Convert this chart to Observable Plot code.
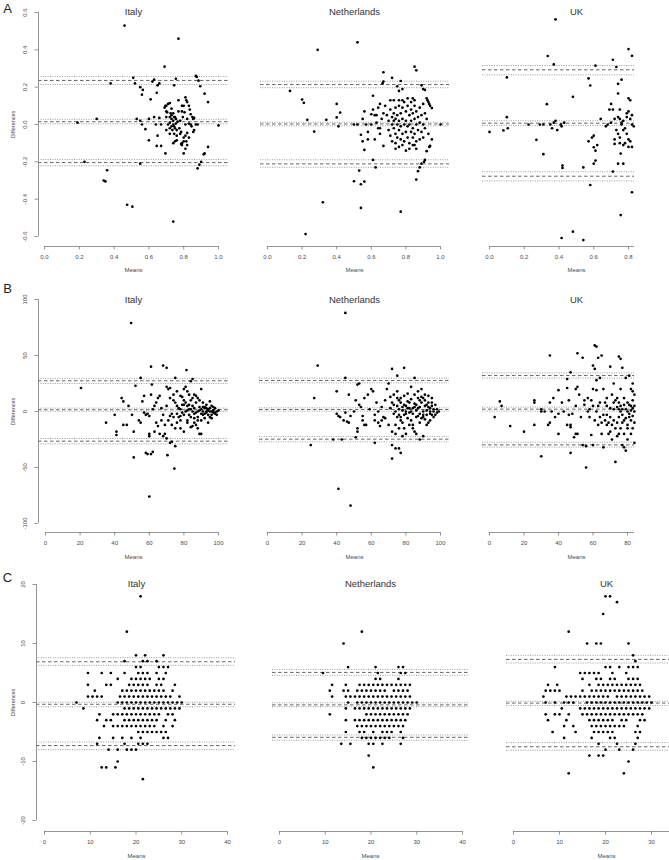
<!DOCTYPE html>
<html><head><meta charset="utf-8">
<script src="https://cdn.jsdelivr.net/npm/d3@7"></script>
<script src="https://cdn.jsdelivr.net/npm/@observablehq/plot@0.6"></script>
<style>
body{margin:0;background:#fff}
#fig{position:relative;width:669px;height:860px;overflow:hidden;background:#fff}
#fig svg{position:absolute;background:transparent}
</style></head><body><div id="fig"></div>
<script>
// ---------- tick labels ----------
const ticksDiffA = [-0.6,-0.4,-0.2,0,0.2,0.4,0.6];
const ticksDiffB = [-100,-50,0,50,100];
const ticksDiffC = [-20,-10,0,10,20];
const ticksMeanA = [0,0.2,0.4,0.6,0.8,1.0];
const ticksMeanAUK = [0,0.2,0.4,0.6,0.8];
const ticksMeanB = [0,20,40,60,80,100];
const ticksMeanBUK = [0,20,40,60,80];
const ticksMeanC = [0,10,20,30,40];
const ticksMeanCUK = [0,10,20,30];
const countries = ["Italy","Netherlands","UK"];
const panelLetters = ["A","B","C"];

// ---------- limits of agreement: [lower, bias, upper], each [ciLow, estimate, ciHigh] ----------
const loaItalyA = [[-0.221,-0.204,-0.187],[0.004,0.015,0.028],[0.214,0.236,0.257]];
const loaNetherlandsA = [[-0.229,-0.211,-0.189],[-0.007,0.003,0.012],[0.197,0.214,0.232]];
const loaUKA = [[-0.302,-0.277,-0.253],[-0.005,0.007,0.020],[0.266,0.293,0.316]];
const loaItalyB = [[-28.9,-26.5,-24.1],[0.2,1.6,3.0],[25.0,27.4,29.6]];
const loaNetherlandsB = [[-27.1,-24.7,-22.3],[0.3,1.8,3.3],[25.6,27.7,29.8]];
const loaUKB = [[-31.8,-29.8,-27.4],[0.3,2.1,3.9],[29.8,32.1,34.5]];
const loaItalyC = [[-8.0,-7.3,-6.7],[-0.7,-0.3,0.05],[6.3,6.9,7.6]];
const loaNetherlandsC = [[-6.4,-5.9,-5.5],[-0.7,-0.4,-0.05],[4.6,5.1,5.6]];
const loaUKC = [[-8.1,-7.5,-6.8],[-0.5,-0.1,0.2],[6.7,7.3,8.0]];

// ---------- points [mean, difference] ----------
const ptsItalyA = [[0.46,0.53],[0.77,0.46],[0.69,0.31],
[0.51,0.25],[0.52,0.22],[0.38,0.22],[0.62,0.23],[0.63,0.24],[0.65,0.21],[0.66,0.22],[0.745,0.21],[0.755,0.245],[0.87,0.26],[0.875,0.255],[0.885,0.235],[0.895,0.205],
[0.55,0.2],[0.565,0.185],[0.56,0.16],[0.61,0.135],[0.645,0.17],[0.92,0.165],[0.94,0.12],[0.72,0.115],[0.695,0.1],[0.69,0.09],[0.71,0.11],
[0.19,0.01],[0.30,0.03],[0.53,0.03],[0.55,0.02],[0.56,0.0],[0.58,-0.025],[0.60,0.03],[0.60,-0.085],[0.63,0.04],[0.64,0.0],[0.65,-0.06],[0.645,-0.115],[0.67,-0.115],[0.66,0.035],[0.67,0.0],
[0.23,-0.2],[0.36,-0.245],[0.34,-0.3],[0.35,-0.305],[0.55,-0.21],[0.475,-0.43],[0.505,-0.44],[0.74,-0.52],[0.88,-0.235],[0.89,-0.215],[0.9,-0.2],[0.915,-0.16],[0.92,-0.155],[0.94,-0.12],[1.0,-0.005],[0.8,-0.155],[0.695,-0.155],[0.81,-0.13],[0.82,-0.11],[0.79,-0.1],[0.785,-0.105],
[0.70,0.07],[0.70,0.04],[0.70,-0.03],[0.71,0.0],[0.72,0.04],[0.72,0.01],[0.72,-0.02],[0.73,0.085],[0.73,0.05],[0.73,0.03],[0.73,-0.01],[0.735,-0.03],[0.74,0.06],[0.74,0.02],[0.74,0.0],[0.745,-0.01],[0.745,-0.05],[0.75,-0.09],[0.75,0.04],[0.75,-0.02],[0.755,0.03],[0.76,-0.03],[0.76,-0.06],[0.77,0.13],[0.77,0.07],[0.775,-0.02],[0.78,0.02],[0.785,-0.04],[0.79,0.1],[0.79,0.07],[0.795,0.04],[0.80,0.1],[0.80,-0.07],[0.80,-0.09],[0.805,0.065],[0.81,0.145],[0.81,0.0],[0.815,0.13],[0.82,0.12],[0.82,0.03],[0.82,-0.045],[0.83,0.1],[0.83,0.005],[0.835,0.08],[0.84,0.0],[0.845,-0.01],[0.85,0.04],[0.855,0.03],[0.855,-0.04],[0.86,0.035],[0.86,-0.03],[0.87,0.0],[0.88,0.0],[0.84,0.055],[0.70,0.1],[0.705,0.065],[0.725,0.06],[0.755,0.005],[0.765,0.015],[0.745,0.04],[0.72,-0.05],[0.74,-0.1],[0.78,-0.05],[0.81,-0.06],[0.83,-0.07],[0.79,-0.11],[0.815,-0.09],[0.76,-0.085]];

const ptsNetherlandsA = [[0.29,0.40],[0.52,0.44],[0.22,-0.587],[0.32,-0.417],[0.54,-0.447],[0.77,-0.467],
[0.85,0.31],[0.86,0.29],[0.67,0.28],[0.72,0.25],[0.67,0.23],[0.665,0.22],[0.77,0.233],[0.75,0.205],[0.89,0.21],[0.90,0.19],[0.91,0.185],[0.13,0.18],[0.76,0.18],[0.78,0.19],[0.61,0.154],[0.71,0.13],[0.73,0.13],[0.76,0.13],[0.78,0.13],[0.81,0.14],[0.83,0.12],[0.84,0.14],[0.85,0.13],[0.92,0.14],[0.925,0.13],[0.93,0.12],[0.935,0.11],[0.94,0.1],[0.95,0.088],[0.2,0.134],[0.21,0.116],[0.4,0.11],[0.65,0.11],[0.42,0.064],[0.4,0.038],[0.23,0.025],[0.34,0.025],[0.27,-0.038],[0.41,-0.01],[0.5,0.0],[0.52,0.0],[0.55,0.03],[0.56,0.07],[0.54,-0.055],[0.58,-0.04],[0.56,-0.136],[0.6,0.055],[0.62,0.05],[0.61,0.08],[0.63,0.01],[0.64,-0.02],[0.65,-0.05],[0.67,-0.115],[0.61,-0.19],[0.625,-0.23],[0.53,-0.247],[0.5,-0.304],[0.54,-0.32],[0.56,-0.306],[0.74,-0.13],[0.76,-0.12],[0.78,-0.11],[0.8,-0.14],[0.82,-0.13],[0.84,-0.11],[0.85,-0.11],[0.86,-0.13],[0.88,-0.08],[0.9,-0.07],[0.91,-0.19],[0.905,-0.2],[0.89,-0.21],[0.88,-0.23],[0.87,-0.25],[0.86,-0.295],[0.92,-0.143],[0.935,-0.12],[0.94,-0.115],[0.95,-0.08],[1.0,0.0],
[0.69,0.05],[0.70,0.02],[0.70,-0.03],[0.71,0.08],[0.71,-0.06],[0.72,0.04],[0.72,0.0],[0.72,-0.09],[0.73,0.06],[0.73,0.02],[0.73,-0.02],[0.74,0.09],[0.74,0.03],[0.74,-0.05],[0.74,-0.1],[0.75,0.05],[0.75,0.0],[0.75,-0.07],[0.76,0.1],[0.76,0.02],[0.76,-0.03],[0.77,0.06],[0.77,-0.01],[0.77,-0.08],[0.78,0.09],[0.78,0.03],[0.78,-0.05],[0.79,0.12],[0.79,0.0],[0.79,-0.09],[0.80,0.07],[0.80,0.02],[0.80,-0.04],[0.81,0.1],[0.81,-0.01],[0.81,-0.07],[0.82,0.05],[0.82,0.0],[0.82,-0.1],[0.83,0.08],[0.83,0.02],[0.83,-0.04],[0.84,0.06],[0.84,-0.02],[0.84,-0.07],[0.85,0.1],[0.85,0.03],[0.85,-0.05],[0.86,0.07],[0.86,0.0],[0.86,-0.09],[0.87,0.04],[0.87,-0.03],[0.88,0.09],[0.88,0.01],[0.89,0.05],[0.89,-0.04],[0.90,0.0],[0.90,0.11],[0.91,0.06],[0.91,-0.02],[0.92,0.03],[0.93,-0.05],[0.68,0.1],[0.67,0.06],[0.66,0.03],[0.65,-0.02],[0.64,0.09],[0.63,0.05],[0.62,-0.08],[0.60,0.0],[0.58,-0.08],[0.57,0.0],[0.55,-0.09]];

const ptsUKA = [[0.38,0.563],[0.335,0.367],[0.37,0.322],[0.61,0.315],[0.71,0.347],[0.73,0.308],[0.8,0.404],[0.82,0.368],[0.1,0.252],[0.57,0.247],[0.58,0.209],[0.76,0.24],[0.74,0.218],[0.74,0.166],[0.8,0.14],[0.81,0.13],[0.48,0.148],[0.33,0.109],[0.70,0.11],[0.69,0.08],[0.71,0.08],[0.75,0.08],[0.79,0.06],[0.8,0.07],[0.82,0.05],[0.10,0.039],[0.105,-0.02],[0.08,-0.032],[0.0,-0.04],[0.225,0.0],[0.29,0.0],[0.31,0.0],[0.35,0.0],[0.37,0.01],[0.38,0.02],[0.36,-0.02],[0.39,-0.03],[0.41,0.0],[0.415,-0.01],[0.43,0.01],[0.27,-0.082],[0.31,-0.159],[0.42,-0.22],[0.42,-0.233],[0.54,-0.23],[0.57,-0.09],[0.6,-0.122],[0.61,-0.14],[0.62,-0.11],[0.59,-0.07],[0.6,-0.06],[0.61,-0.193],[0.6,-0.21],[0.58,-0.324],[0.71,-0.252],[0.74,-0.21],[0.77,-0.21],[0.755,-0.156],[0.72,-0.104],[0.82,-0.363],[0.755,-0.485],[0.415,-0.608],[0.48,-0.574],[0.54,-0.619],[0.64,0.03],[0.67,-0.01],[0.68,0.0],[0.7,0.01],[0.72,0.03],[0.73,-0.03],[0.74,-0.05],[0.75,-0.07],[0.76,0.0],[0.77,0.02],[0.78,-0.02],[0.79,-0.05],[0.8,-0.08],[0.81,-0.09],[0.82,-0.12],[0.78,-0.1],[0.77,-0.11],[0.8,-0.12],[0.74,0.04],[0.75,0.03],[0.76,0.01],[0.77,-0.03],[0.82,0.0],[0.83,-0.01],[0.81,0.03],[0.79,0.04],[0.72,-0.08],[0.75,-0.1]];

const ptsItalyB = [[49.5,79],[60,-76],[74.5,-51],[51,-41],[70.5,-39],[61,40],[68,41],[70,39],[81.5,37],[55,30],[75,30],[85,29],[84,27],[61.5,24],[52,23],[20.5,21],[57,14],
[35,-10],[40,-3],[41,-18],[41,-21],[44,12],[45,9],[45,-12],[47,-12],[48,5],[50,-3],[51,-18],[55,-10],[54,-8],[56,9],[57,-1],[58,-37],[59,-38],[61,-38],[62,-36],[60,-20],[60,-22],[61,15],[63,-18],[64,8],[64,-10],[65,-13],[66,-20],[67,-8],[68,-22],[69,-20],[70,-24],[72,-28],[73,-27],[75,-31],[58,-3],[59,-2],[60,-4],[62,2],[63,5],[65,12],[66,14],[67,3],[68,-3],[70,22],[71,20],[72,21],[73,-2],[74,10],[75,8],[76,5],[77,-5],[78,-8],[79,13],[80,20],[81,22],[82,18],[83,15],[84,10],[85,5],[86,-2],[87,-12],[88,-15],[89,-20],[90,-20],[91,8],[92,3],[93,0],[94,2],[95,-5],[96,-3],[97,1],[98,3],[99,0],[100,1],[90,20],[86,15],[88,12],[76,-10],[78,-15],[80,-18],[82,-8],[84,-5],[86,-10],[88,-5],[90,-8],[92,-2],[94,-10],[96,5],[98,-2],[72,12],[74,15],[76,18],[78,14],[80,10],[82,5],[83,-3],[85,-13],[87,8],[89,4],[91,-3],[93,6],[95,9],[97,-1],[99,-3],[70,5],[71,-8],[73,-12],[75,-15],[77,3],[79,-1],[81,0],[83,2],[85,0],[87,-1],[89,1],[91,0],[93,-1],[95,0],[69,-12],[72,-4],[74,-5],[76,-2],[78,2],[80,-3],[82,-10],[84,-14],[86,3],[88,-8],[90,2],[92,4],[94,-3],[96,0],[98,-1],[79,6],[81,8],[83,6],[85,12],[87,14],[89,10],[91,4],[93,3],[95,3],[97,4],[78,-4],[80,6],[82,1],[84,2],[86,-6],[88,0],[90,-2],[92,-6],[94,1],[96,-6]];

const ptsNetherlandsB = [[45,88],[29,41],[72,38],[79,39],[75,32],[45,30],[85,30],[27,12],[40,18],[52,24],[53,25],[25,-30],[38,-25],[43,-25],[51,-23],[62,-28],[72,-42],[74,-33],[76,-33],[77,-37],[41,-69],[48,-84],[72,-30],[88,-25],[90,-22],[55,-8],[56,-12],[57,-12],[52,-15],[52,-18],[47,-10],[46,-9],[45,-1],[40,-2],[42,-5],[44,-8],[47,15],[41,-4],[48,-4],[50,0],[51,10],[53,6],[54,4],[55,-4],[56,12],[58,15],[59,2],[60,20],[61,18],[63,8],[62,-3],[64,-10],[65,-13],[66,-8],[67,-5],[68,10],[69,20],[70,25],[71,13],[72,8],[73,-2],[74,-12],[75,5],[76,10],[77,-5],[78,-10],[79,-15],[80,-2],[81,3],[82,8],[83,-8],[84,-12],[85,-18],[86,-5],[87,3],[88,10],[89,20],[90,12],[91,5],[92,-3],[93,-10],[94,-2],[95,5],[96,0],[97,-3],[98,2],[99,0],[70,-12],[72,-18],[74,-20],[76,-15],[78,-22],[80,-20],[82,-12],[84,-15],[86,-20],[88,-10],[90,-5],[92,-12],[94,-8],[96,-5],[73,15],[75,18],[77,12],[79,14],[81,16],[83,22],[85,15],[87,18],[89,8],[91,10],[93,8],[95,12],[74,0],[76,2],[78,4],[80,0],[82,-1],[84,3],[86,1],[88,-2],[90,0],[92,1],[94,3],[96,2],[98,-1],[75,-5],[77,-8],[79,-3],[81,-6],[83,0],[85,4],[87,-4],[89,-6],[91,-7],[93,4],[95,-3],[97,6],[71,3],[73,6],[75,12],[77,8],[79,6],[81,9],[83,11],[85,7],[87,12],[89,13],[91,15],[93,14],[95,8],[76,-3],[78,1],[80,5],[82,3],[84,-2],[86,6],[88,4],[90,-3],[92,6],[94,0],[66,4],[64,0],[62,-8],[68,-6]];

const ptsUKB = [[3,-5],[6,9],[7,5],[12,-13],[20,-18],[26,10],[26,8],[26,-12],[30,-40],[30,0],[35,50],[35,8],[34,-12],[35,-10],[37,12],[40,19],[40,-2],[40,-20],[45,21],[45,29],[47,35],[46,10],[45,-12],[47,-12],[47,-14],[47,-37],[49,-23],[50,-20],[51,-20],[50,20],[51,22],[52,15],[51,52],[54,48],[55,10],[55,6],[56,-31],[56,-50],[54,-30],[57,0],[58,-5],[59,-21],[60,-30],[60,20],[60,41],[61,59],[62,58],[61,38],[62,28],[62,19],[63,48],[65,50],[64,30],[63,5],[64,-5],[65,-10],[65,-20],[66,-32],[67,8],[68,12],[68,-3],[69,-20],[70,-18],[70,40],[71,15],[72,25],[73,-45],[73,10],[74,-10],[75,-5],[75,49],[76,47],[77,39],[76,20],[76,0],[77,-10],[77,-30],[78,-32],[79,-35],[80,-25],[80,-15],[81,-5],[82,5],[83,10],[82,20],[83,25],[84,15],[84,-10],[84,-28],[84,0],[83,-15],[80,8],[78,12],[72,-8],[70,3],[68,-12],[66,20],[75,-20],[73,-15],[71,-25],[69,-10],[79,30],[81,32],[83,18],[78,-8],[76,5],[74,12],[72,2],[70,-5],[68,5],[66,-3],[64,8],[62,0],[60,5],[58,2],[79,2],[81,-2],[82,-8],[77,2],[75,8],[83,3],[84,5],[80,-12],[78,-20],[76,-15],[74,-22],[82,-20],[71,-12],[67,-8],[63,-12],[61,-8],[59,10],[57,12],[53,-5],[50,5],[48,-2],[46,-3],[43,0],[42,8],[38,-5],[36,0],[32,0],[30,2],[75,2],[77,-3],[79,-6],[81,6],[83,-4],[80,0],[82,1],[78,6],[74,4],[72,8]];

// ---------- panel C rows: [difference, [means...]] ----------
const rowsItalyC = [[18,[21]],[12,[18]],[8,[20,22,26]],[7,[17.5,21.5,22.5,24.5]],[6,[20,21,25,26,27]],
[5,[9.5,12.5,14.5,17.5,20.5,21.5,22.5,24.5,26.5]],[4,[16,19,20,21,22,23,25,26]],
[3,[9.5,13.5,14.5,18.5,19.5,20.5,21.5,22.5,24.5,25.5,28.5]],[2,[11,17,18,19,20,21,22,23,24,25,26,28]],
[1,[9.5,10.5,11.5,12.5,16.5,17.5,18.5,19.5,20.5,21.5,22.5,23.5,24.5,25.5,26.5,27.5,29.5]],
[0,[7,16,17,18,19,20,21,22,23,24,25,26,27,28,29,30]],
[-1,[8.5,17.5,18.5,19.5,20.5,21.5,22.5,23.5,24.5,25.5,26.5,27.5,28.5,29.5]],
[-2,[12,15,16,17,18,19,20,21,22,23,24,25,27,28]],
[-3,[11.5,13.5,14.5,17.5,18.5,19.5,20.5,21.5,22.5,23.5,24.5,26.5,28.5]],
[-4,[13,15,16,17,18,19,20,21,22,23,24,26,28]],[-5,[20.5,21.5,22.5,23.5,24.5,25.5,26.5]],
[-6,[12,15,17,19,21,26,27]],[-7,[11.5,17.5,20.5,21.5,22.5]],[-8,[14,16,18,19,20]],
[-10,[16]],[-11,[12.5,13.5,15.5]],[-13,[21.5]]];

const rowsNetherlandsC = [[12,[18]],[10,[14]],[6,[15,21,26,27]],[5,[9.5,21.5,26.5,27.5]],[4,[21,22,26]],
[3,[11.5,14.5,17.5,18.5,19.5,20.5,21.5,22.5,23.5,24.5,25.5,26.5,27.5,28.5]],
[2,[11,14,15,17,18,19,20,21,22,23,25,26,27,28]],
[1,[11.5,14.5,15.5,16.5,17.5,18.5,19.5,20.5,21.5,22.5,23.5,24.5,25.5,26.5,27.5,28.5]],
[0,[15,17,18,19,20,21,22,23,24,25,26,27,28,29,30]],
[-1,[14.5,16.5,17.5,18.5,19.5,20.5,21.5,22.5,23.5,24.5,25.5,26.5,27.5,28.5]],
[-2,[11,19,20,21,22,23,24,25,26,27,28]],
[-3,[14.5,16.5,17.5,18.5,19.5,20.5,21.5,22.5,23.5,24.5,25.5,26.5,27.5]],
[-4,[17,18,19,20,21,22,23,24,25,26,27]],[-5,[14.5,17.5,18.5,20.5,22.5,23.5,24.5,26.5]],
[-6,[18,19,20,21,22,23,24,27]],[-7,[13.5,15.5,19.5,20.5,22.5,26.5]],[-9,[19.5]],[-11,[20.5]]];

const rowsUKC = [[18,[20,21]],[17,[22.5]],[15,[19.5]],[12,[12]],[10,[16,18,19,25]],[8,[26]],[7,[26.5]],
[6,[9,20,21,23,25,26,27]],[5,[14.5,15.5,16.5,17.5,18.5,21.5,24.5]],[4,[15,18,19,21,22,25,26,27]],
[3,[7.5,9.5,16.5,18.5,19.5,20.5,21.5,22.5,23.5,24.5,25.5,26.5,27.5]],
[2,[7,8,9,10,15,17,18,19,20,21,22,23,24,25,26,27,28]],
[1,[6.5,11.5,12.5,13.5,14.5,15.5,16.5,17.5,18.5,19.5,20.5,22.5,23.5,24.5,25.5,26.5,27.5,28.5,29.5]],
[0,[7,9,11,12,13,16,17,18,19,20,21,22,23,24,25,26,27,28,29,30]],
[-1,[10.5,14.5,15.5,16.5,17.5,18.5,19.5,20.5,21.5,22.5,23.5,24.5,25.5,26.5,27.5,28.5,29.5]],
[-2,[7,9,10,12,15,16,17,18,19,20,21,22,23,24,25,26,27,28]],
[-3,[7.5,11.5,16.5,17.5,18.5,19.5,20.5,21.5,23.5,24.5,27.5,28.5]],
[-4,[11,13,17,18,19,20,21,22,23,24,27]],[-5,[8.5,13.5,17.5,18.5,19.5,20.5,21.5,26.5,27.5]],
[-6,[11,17,21,22,27]],[-7,[18.5,22.5,26.5]],[-8,[20,23,26]],[-9,[16.5,18.5,19.5]],[-10,[25]],[-12,[12,24]]];

const flatten = rows => rows.flatMap(([d, ms]) => ms.map(m => [m, d]));

// ---------- layout (pixel geometry of the composite figure) ----------
const rowsLayout = [
  {T:0,   H:280, yTicks:ticksDiffA, yPx:[236,12],  axisY:246, labelY:257, meansY:270, titleY:11,  letterY:8,   fmt:d=>d.toFixed(1)},
  {T:280, H:285, yTicks:ticksDiffB, yPx:[523,299], axisY:532, labelY:543, meansY:557, titleY:299, letterY:288, fmt:d=>String(d)},
  {T:565, H:295, yTicks:ticksDiffC, yPx:[820,584], axisY:831, labelY:842, meansY:856, titleY:583, letterY:577, fmt:d=>String(d)}
];
const cols = [{L:0,W:245},{L:245,W:225},{L:470,W:199}];
const panels = [
  {r:0,c:0,xTicks:ticksMeanA,  xPx:[44,218], region:[38,228], center:133, yAxisX:38, pts:ptsItalyA, loa:loaItalyA},
  {r:0,c:1,xTicks:ticksMeanA,  xPx:[267,440],region:[260,449],center:354, pts:ptsNetherlandsA, loa:loaNetherlandsA},
  {r:0,c:2,xTicks:ticksMeanAUK,xPx:[489,628],region:[482,634],center:576, axisEnd:634, pts:ptsUKA, loa:loaUKA},
  {r:1,c:0,xTicks:ticksMeanB,  xPx:[45,218], region:[38,228], center:133, yAxisX:38, pts:ptsItalyB, loa:loaItalyB},
  {r:1,c:1,xTicks:ticksMeanB,  xPx:[267,440],region:[259,449],center:354, pts:ptsNetherlandsB, loa:loaNetherlandsB},
  {r:1,c:2,xTicks:ticksMeanBUK,xPx:[489,627],region:[482,634],center:576, axisEnd:634, pts:ptsUKB, loa:loaUKB},
  {r:2,c:0,xTicks:ticksMeanC,  xPx:[44,227], region:[36,235], center:136, yAxisX:36, pts:flatten(rowsItalyC), loa:loaItalyC},
  {r:2,c:1,xTicks:ticksMeanC,  xPx:[279,462],region:[272,469],center:370, pts:flatten(rowsNetherlandsC), loa:loaNetherlandsC},
  {r:2,c:2,xTicks:ticksMeanCUK,xPx:[513,651],region:[506,669],center:606, axisEnd:669, pts:flatten(rowsUKC), loa:loaUKC}
];

const FONT = "'Liberation Sans', Arial, Helvetica, sans-serif";
const AX = "#7a7a7a", TX = "#4a4a4a";
const fig = document.getElementById("fig");

for (const p of panels) {
  const row = rowsLayout[p.r], col = cols[p.c];
  const L = col.L, T = row.T, W = col.W, H = row.H;
  const xT = p.xTicks, yT = row.yTicks;
  const x0 = xT[0], x1 = xT[xT.length - 1], y0 = yT[0], y1 = yT[yT.length - 1];
  const xv = px => x0 + (px - p.xPx[0]) * (x1 - x0) / (p.xPx[1] - p.xPx[0]);
  const yv = py => y0 + (py - row.yPx[0]) * (y1 - y0) / (row.yPx[1] - row.yPx[0]);
  const lines = [];
  p.loa.forEach(([lo, est, hi]) => { lines.push({v: lo, k: "ci"}, {v: est, k: "est"}, {v: hi, k: "ci"}); });
  const xl = xv(p.region[0]), xr = xv(p.region[1]);
  const axisYv = yv(row.axisY);
  const marks = [
    Plot.ruleY(lines.filter(d => d.k === "ci"), {y: "v", x1: () => xl, x2: () => xr, stroke: "#808080", strokeWidth: 0.8, strokeDasharray: "1,1.4"}),
    Plot.ruleY(lines.filter(d => d.k === "est"), {y: "v", x1: () => xl, x2: () => xr, stroke: "#555", strokeWidth: 0.9, strokeDasharray: "3.5,2.5"}),
    Plot.dot(p.pts, {x: d => d[0], y: d => d[1], r: 1.35, fill: "#000"}),
    // x axis
    Plot.ruleY([axisYv], {x1: () => x0, x2: () => p.axisEnd ? xv(p.axisEnd) : x1, stroke: AX, strokeWidth: 0.8}),
    Plot.ruleX(xT, {x: d => d, y1: () => axisYv, y2: () => yv(row.axisY + 3.5), stroke: AX, strokeWidth: 0.8}),
    Plot.text(xT, {x: d => d, y: () => yv(row.labelY), text: row.fmt, fontSize: 6, fill: TX, fontFamily: FONT}),
    Plot.text(["Means"], {x: () => xv(p.center), y: () => yv(row.meansY), text: d => d, fontSize: 6, fill: TX, fontFamily: FONT}),
    Plot.text([countries[p.c]], {x: () => xv(p.center), y: () => yv(row.titleY), text: d => d, fontSize: 9.5, fill: "#333", fontFamily: FONT})
  ];
  if (p.yAxisX !== undefined) {
    const ax = xv(p.yAxisX);
    marks.push(
      Plot.ruleX([ax], {y1: () => y0, y2: () => y1, stroke: AX, strokeWidth: 0.8}),
      Plot.ruleY(yT, {y: d => d, x1: () => ax, x2: () => xv(p.yAxisX - 3.5), stroke: AX, strokeWidth: 0.8}),
      Plot.text(yT, {x: () => xv(p.yAxisX - 13), y: d => d, text: row.fmt, rotate: -90, fontSize: 6, fill: TX, fontFamily: FONT}),
      Plot.text(["Differences"], {x: () => xv(13), y: () => 0, text: d => d, rotate: -90, fontSize: 5.5, fill: TX, fontFamily: FONT}),
      Plot.text([panelLetters[p.r]], {x: () => xv(7), y: () => yv(row.letterY), text: d => d, fontSize: 13, fill: "#222", fontFamily: FONT})
    );
  }
  const svg = Plot.plot({
    width: W, height: H, margin: 0,
    style: {background: "transparent", overflow: "visible"},
    x: {type: "linear", domain: [x0, x1], range: [p.xPx[0] - L, p.xPx[1] - L], axis: null},
    y: {type: "linear", domain: [y0, y1], range: [row.yPx[0] - T, row.yPx[1] - T], axis: null},
    marks
  });
  svg.style.left = L + "px";
  svg.style.top = T + "px";
  svg.style.position = "absolute";
  fig.appendChild(svg);
}
</script></body></html>
